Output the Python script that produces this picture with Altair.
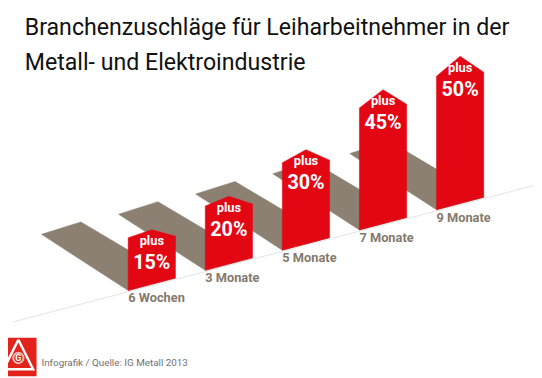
import altair as alt
import pandas as pd

# ---------------- data ----------------
categories = ["6 Wochen", "3 Monate", "5 Monate", "7 Monate", "9 Monate"]
values = [15, 20, 30, 45, 50]
value_labels = ["15%", "20%", "30%", "45%", "50%"]
prefix = "plus"
title_lines = ["Branchenzuschläge für Leiharbeitnehmer in der",
               "Metall- und Elektroindustrie"]
source_text = "Infografik / Quelle: IG Metall 2013"

# ---------------- layout (page pixel units) ----------------
W, H = 534, 370            # drawing area: page x 8..542, y 8..378
FIRST_LEFT, FIRST_BASE = 130.0, 292.0
STEP_X, STEP_Y = 78.25, -20.5
BAR_W = 48.0
SLOPE = -0.264
H0, H_PER = 18.5, 2.34
SH_DXL, SH_DXR, SH_DY = 88.0, 96.0, 57.0

RED = "#e30613"
SHADOW = "#8b8071"
LABEL = "#857a6c"
FONT = "Roboto"

xs = alt.Scale(domain=[8, 8 + W], nice=False, zero=False)
ys = alt.Scale(domain=[8, 8 + H], reverse=True, nice=False, zero=False)
X = lambda f: alt.X(f, scale=xs, axis=None)
Y = lambda f: alt.Y(f, scale=ys, axis=None)

bar_rows, shadow_rows, label_rows = [], [], []

for i, (cat, v, lab) in enumerate(zip(categories, values, value_labels)):
    L = FIRST_LEFT + i * STEP_X
    base = FIRST_BASE + i * STEP_Y
    h = H0 + H_PER * v
    ls = base - h
    peak = ls - 0.15 * h
    rs = ls - 0.03 * h
    R = L + BAR_W
    BL = (L, base)
    BR = (R, base + SLOPE * BAR_W)
    # bar polygon
    for k, (x, y) in enumerate([BL, (L, ls), (L + BAR_W / 2, peak), (R, rs), BR, BL]):
        bar_rows.append({"bar": cat, "k": k, "x": x, "y": y})
    # shadow polygon
    TL = (L - SH_DXL, base - SH_DY)
    TR = (R - SH_DXR, BR[1] - SH_DY)
    for k, (x, y) in enumerate([TL, TR, BR, BL, TL]):
        shadow_rows.append({"bar": cat, "k": k, "x": x, "y": y})
    label_rows.append({"cat": cat, "lab": lab, "plus": prefix,
                       "cx": L + BAR_W / 2, "left": L,
                       "y_plus": peak + 15.5, "y_pct": peak + 40,
                       "y_cat": base + 12})

bars = pd.DataFrame(bar_rows)
shadows = pd.DataFrame(shadow_rows)
labels = pd.DataFrame(label_rows)

g_x1, g_x2 = 13.0, 542.0
g_at = lambda x: FIRST_BASE + 1.3 + (SLOPE + 0.002) * (x - FIRST_LEFT)
ground = pd.DataFrame([{"x": g_x1, "y": g_at(g_x1), "x2": g_x2, "y2": g_at(g_x2)}])

ground_layer = alt.Chart(ground).mark_rule(color="#e4e4e4", strokeWidth=1).encode(
    x=X("x:Q"), y=Y("y:Q"), x2="x2:Q", y2="y2:Q")

shadow_layer = alt.Chart(shadows).mark_line(fill=SHADOW, stroke=SHADOW, strokeWidth=0.5).encode(
    x=X("x:Q"), y=Y("y:Q"), detail="bar:N", order=alt.Order("k:Q"))

bar_layer = alt.Chart(bars).mark_line(fill=RED, stroke=RED, strokeWidth=0.5).encode(
    x=X("x:Q"), y=Y("y:Q"), detail="bar:N", order=alt.Order("k:Q"))

plus_layer = alt.Chart(labels).mark_text(
    color="white", font=FONT, fontWeight="bold", fontSize=13, baseline="alphabetic", align="center"
).encode(x=X("cx:Q"), y=Y("y_plus:Q"), text="plus:N")

pct_layer = alt.Chart(labels).mark_text(
    color="white", font=FONT, fontWeight="bold", fontSize=20, baseline="alphabetic", align="center"
).encode(x=X("cx:Q"), y=Y("y_pct:Q"), text="lab:N")

cat_layer = alt.Chart(labels).mark_text(
    color=LABEL, font=FONT, fontWeight="bold", fontSize=13, baseline="alphabetic", align="left"
).encode(x=X("left:Q"), y=Y("y_cat:Q"), text="cat:N")

title_df = pd.DataFrame({"t": title_lines, "x": [25, 25], "y": [33, 68]})
title_layer = alt.Chart(title_df).mark_text(
    color="#111111", font=FONT, fontSize=23.5, baseline="alphabetic", align="left"
).encode(x=X("x:Q"), y=Y("y:Q"), text="t:N")

src_df = pd.DataFrame({"t": [source_text], "x": [42], "y": [369]})
src_layer = alt.Chart(src_df).mark_text(
    color="#707070", font=FONT, fontSize=10, baseline="alphabetic", align="left"
).encode(x=X("x:Q"), y=Y("y:Q"), text="t:N")

# logo
logo_box = pd.DataFrame([{"x": 0, "x2": 37, "y": 340, "y2": 379}])
logo_rect = alt.Chart(logo_box).mark_rect(color="#e2231a").encode(
    x=X("x:Q"), x2="x2:Q", y=Y("y:Q"), y2="y2:Q")
tri = pd.DataFrame({"k": [0, 1, 2, 3], "x": [18.5, 33.5, 3.5, 18.5], "y": [342, 372, 372, 342]})
logo_tri = alt.Chart(tri).mark_line(color="white", strokeWidth=2.5).encode(
    x=X("x:Q"), y=Y("y:Q"), order=alt.Order("k:Q"))
circ = pd.DataFrame({"x": [18.5], "y": [360.5], "t": ["G"]})
logo_circ = alt.Chart(circ).mark_point(shape="circle", size=110, color="white", strokeWidth=2, filled=False).encode(
    x=X("x:Q"), y=Y("y:Q"))
logo_g = alt.Chart(circ).mark_text(color="white", font=FONT, fontWeight="bold", fontSize=9,
                                   baseline="middle", align="center").encode(
    x=X("x:Q"), y=Y("y:Q"), text="t:N")

chart = alt.layer(
    ground_layer, shadow_layer, bar_layer, plus_layer, pct_layer, cat_layer,
    title_layer, src_layer, logo_rect, logo_tri, logo_circ, logo_g
).properties(
    width=W, height=H, padding=0, autosize=alt.AutoSizeParams(type="none"), background="white"
).configure_view(stroke=None)

chart.save("out.html", embed_options={"renderer": "svg", "actions": False})
